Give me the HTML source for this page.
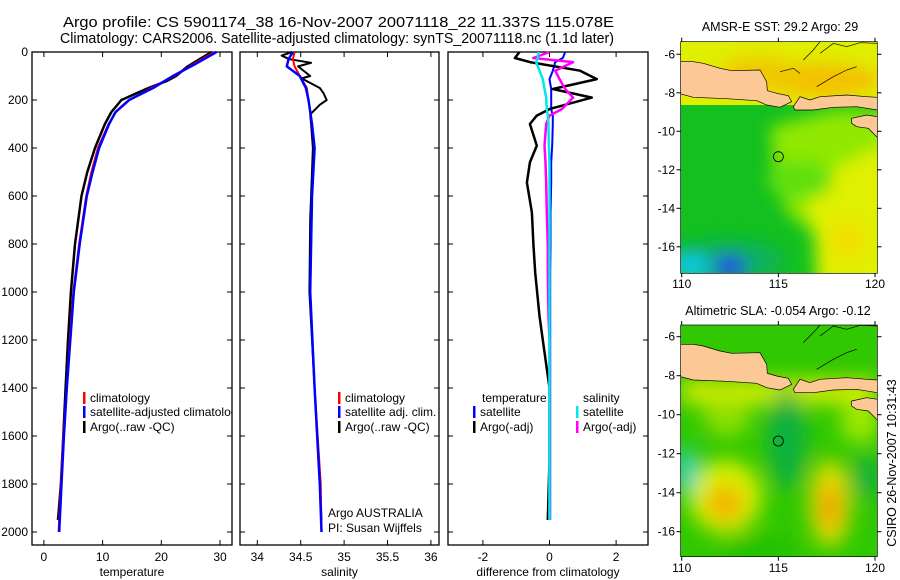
<!DOCTYPE html>
<html><head><meta charset="utf-8">
<style>
html,body{margin:0;padding:0;background:#fff;}
svg{display:block;font-family:"Liberation Sans",sans-serif;}
</style></head>
<body>
<svg id="fig" width="900" height="580" viewBox="0 0 900 580" xmlns="http://www.w3.org/2000/svg">
<defs><clipPath id="p1clip"><rect x="32" y="52" width="200" height="493"/></clipPath></defs>
<text x="63" y="27" font-size="15" textLength="551" lengthAdjust="spacingAndGlyphs">Argo profile: CS 5901174_38 16-Nov-2007 20071118_22 11.337S 115.078E</text>
<text x="60" y="43" font-size="14.5" textLength="554" lengthAdjust="spacingAndGlyphs">Climatology: CARS2006. Satellite-adjusted climatology: synTS_20071118.nc (1.1d later)</text>

<!-- Map 1 -->
<g>
<text x="780" y="31" font-size="12.5" text-anchor="middle">AMSR-E SST: 29.2 Argo: 29</text>
<svg x="660" y="0" width="240" height="290" viewBox="0 0 720 870">
<defs><clipPath id="c1"><rect x="62" y="125" width="590" height="695"/></clipPath>
<filter id="bl"><feGaussianBlur stdDeviation="25"/></filter></defs>
<g clip-path="url(#c1)">
<rect x="62" y="125" width="590" height="695" fill="#12c020"/>
<rect x="62" y="125" width="590" height="190" fill="#e0ee00"/>
<g filter="url(#bl)">
<ellipse cx="480" cy="240" rx="180" ry="50" fill="#f4c000"/>
<ellipse cx="300" cy="220" rx="120" ry="50" fill="#f0c800"/>
<path d="M330 380 L520 330 L700 330 L700 900 L470 900 L460 700 L380 640 L340 520 Z" fill="#90e800"/>
<path d="M420 560 L700 420 L700 900 L480 900 L470 700 Z" fill="#e0f000"/>
<ellipse cx="420" cy="540" rx="100" ry="60" fill="#60e010"/>
<ellipse cx="200" cy="780" rx="170" ry="60" fill="#10b060"/>
<ellipse cx="90" cy="800" rx="60" ry="40" fill="#10c8e0"/>
<ellipse cx="210" cy="800" rx="50" ry="35" fill="#2050e0"/>
<ellipse cx="560" cy="720" rx="60" ry="60" fill="#f0e000"/>
</g>
<path d="M62 185 L100 185 L130 190 L180 205 L215 212 L300 210 L320 245 L322 272 L350 280 L385 287 L395 305 L360 322 L320 315 L290 302 L200 296 L100 292 L62 282 Z" fill="#fcc896" stroke="#000" stroke-width="2"/>
<path d="M400 320 L420 290 L450 300 L480 290 L560 285 L620 290 L652 292 L652 330 L590 320 L520 322 L460 330 L405 330 Z" fill="#fcc896" stroke="#000" stroke-width="2"/>
<path d="M575 355 L620 345 L652 350 L652 412 L625 385 L590 380 L575 370 Z" fill="#fcc896" stroke="#000" stroke-width="2"/>
<path d="M430 180 L460 150 L480 125 M480 160 L520 130 L560 140 L600 128 L652 130 M470 260 L520 230 L560 210 L590 200 M360 215 L400 205 L420 220" fill="none" stroke="#000" stroke-width="2"/>
<circle cx="355" cy="470" r="15" fill="none" stroke="#000" stroke-width="2.5"/>
</g>
<rect x="62" y="125" width="590" height="695" fill="none" stroke="#000" stroke-width="2"/>
</svg>
</g>

<!-- Map 2 -->
<g>
<text x="778" y="315" font-size="12.5" text-anchor="middle">Altimetric SLA: -0.054 Argo: -0.12</text>
<svg x="660" y="290" width="240" height="290" viewBox="0 0 720 870">
<defs><clipPath id="c2"><rect x="62" y="105" width="590" height="695"/></clipPath>
<filter id="bl2"><feGaussianBlur stdDeviation="30"/></filter></defs>
<g clip-path="url(#c2)">
<rect x="62" y="105" width="590" height="695" fill="#30c800"/>
<g filter="url(#bl2)">
<rect x="62" y="270" width="590" height="70" fill="#d8ee00"/>
<ellipse cx="195" cy="620" rx="110" ry="110" fill="#d8f000"/>
<ellipse cx="195" cy="640" rx="55" ry="55" fill="#f4b000"/>
<ellipse cx="510" cy="640" rx="60" ry="130" fill="#e8e000"/>
<ellipse cx="510" cy="650" rx="30" ry="70" fill="#f09800"/>
<ellipse cx="380" cy="450" rx="60" ry="150" fill="#10b040"/>
<ellipse cx="80" cy="540" rx="30" ry="70" fill="#20d0d0"/>
<ellipse cx="620" cy="560" rx="40" ry="70" fill="#10b040"/>
<ellipse cx="200" cy="380" rx="70" ry="60" fill="#90e000"/>
<ellipse cx="600" cy="400" rx="60" ry="60" fill="#a0e800"/>
<ellipse cx="300" cy="780" rx="120" ry="40" fill="#20c000"/>
</g>
<path d="M62 163 L100 163 L130 168 L180 183 L215 190 L300 188 L320 223 L322 250 L350 258 L385 265 L395 283 L360 300 L320 293 L290 280 L200 274 L100 270 L62 260 Z" fill="#fcc896" stroke="#000" stroke-width="2"/>
<path d="M400 298 L420 268 L450 278 L480 268 L560 263 L620 268 L652 270 L652 308 L590 298 L520 300 L460 308 L405 308 Z" fill="#fcc896" stroke="#000" stroke-width="2"/>
<path d="M575 333 L620 323 L652 328 L652 390 L625 363 L590 358 L575 348 Z" fill="#fcc896" stroke="#000" stroke-width="2"/>
<path d="M430 158 L460 128 L480 105 M480 138 L520 108 L560 118 L600 106 L652 108 M470 238 L520 208 L560 188 L590 178" fill="none" stroke="#000" stroke-width="2"/>
<circle cx="355" cy="453" r="15" fill="none" stroke="#000" stroke-width="2.5"/>
</g>
<rect x="62" y="105" width="590" height="695" fill="none" stroke="#000" stroke-width="2"/>
</svg>
</g>
<text transform="translate(896,463) rotate(-90)" font-size="12.5" text-anchor="middle">CSIRO 26-Nov-2007 10:31:43</text>
<g id="dyn"></g>
</svg>

<script>
// ---- data ----
const tDepth = [0, 50, 100, 150, 200, 250, 300, 400, 500, 600, 800, 1000, 1200, 1400, 1600, 1800, 2000];
const tClim  = [29.0, 25.5, 22.2, 18.3, 14.6, 12.3, 11.0, 9.2, 8.1, 7.2, 6.0, 5.0, 4.4, 3.9, 3.3, 2.9, 2.5];
const tSat   = [29.4, 25.8, 22.0, 18.6, 14.5, 12.2, 11.1, 9.4, 8.3, 7.3, 6.1, 5.1, 4.5, 3.9, 3.4, 3.0, 2.6];
const tArgoDepth = [0, 30, 60, 100, 120, 150, 200, 250, 300, 400, 500, 600, 800, 1000, 1200, 1400, 1600, 1800, 1950];
const tArgo  = [28.6, 26.5, 24.5, 22.5, 21.0, 17.8, 13.2, 11.5, 10.4, 8.7, 7.4, 6.4, 5.3, 4.6, 4.1, 3.7, 3.3, 2.9, 2.4];

const sDepth = [0, 30, 60, 100, 150, 200, 300, 400, 600, 1000, 1400, 1800, 2000];
const sClim  = [34.43, 34.41, 34.43, 34.49, 34.57, 34.59, 34.63, 34.66, 34.63, 34.61, 34.66, 34.73, 34.74];
const sSat   = [34.41, 34.36, 34.34, 34.49, 34.56, 34.59, 34.63, 34.66, 34.63, 34.61, 34.66, 34.72, 34.74];
const sArgoDepth = [0, 15, 30, 45, 60, 100, 110, 150, 170, 200, 220, 260, 300, 400, 500, 700, 1000, 1400, 1800, 1950];
const sArgo  = [34.40, 34.28, 34.37, 34.62, 34.47, 34.61, 34.51, 34.72, 34.76, 34.80, 34.72, 34.61, 34.62, 34.64, 34.63, 34.61, 34.60, 34.66, 34.72, 34.74];

const dDepth = [0, 25, 42, 78, 113, 154, 190, 238, 265, 300, 390, 460, 544, 669, 808, 919, 1100, 1200, 1400, 1700, 1950];
const dTArgo = [-0.9, -1.04, -0.59, 0.92, 1.42, 0.1, 1.27, 0.0, -0.38, -0.59, -0.38, -0.59, -0.68, -0.53, -0.48, -0.43, -0.3, -0.2, 0.0, 0.0, -0.05];
const dSArgo = [0.0, -0.49, 0.71, 0.17, 0.3, 0.47, 0.71, 0.37, 0.0, -0.1, -0.15, -0.12, -0.1, -0.08, -0.05, -0.05, -0.03, 0.0, 0.0, 0.0, 0.0];
const dTSat  = [0.47, 0.4, 0.17, 0.1, 0.0, 0.05, 0.05, 0.05, 0.1, 0.1, 0.08, 0.05, 0.05, 0.03, 0.03, 0.02, 0.02, 0.02, 0.02, 0.02, 0.02];
const dSSat  = [-0.33, -0.35, -0.4, -0.3, -0.2, -0.15, -0.1, -0.08, -0.05, -0.03, -0.02, 0, 0, 0, 0, 0, 0, 0, 0, 0, 0];

const depthTicks = [0, 200, 400, 600, 800, 1000, 1200, 1400, 1600, 1800, 2000];
const tTicks = [0, 10, 20, 30];
const sTicks = [34, 34.5, 35, 35.5, 36];
const dTicks = [-2, 0, 2];
const latTicks = [-6, -8, -10, -12, -14, -16];
const lonTicks = [110, 115, 120];

// ---- axes ----
const NS = 'http://www.w3.org/2000/svg';
const g = document.getElementById('dyn');
const yTop = 52, yBot = 545;
function yD(d) { return 52 + d * 0.24; }
function mk(tag, attrs, parent) {
  const e = document.createElementNS(NS, tag);
  for (const k in attrs) e.setAttribute(k, attrs[k]);
  (parent || g).appendChild(e);
  return e;
}
const panels = [
  {name: 'temperature', x0: 32, x1: 232, f: v => 43.9 + v * 5.87, ticks: tTicks, label: 'temperature', ylabels: true},
  {name: 'salinity', x0: 240, x1: 439, f: v => 257.3 + (v - 34) * 86.8, ticks: sTicks, label: 'salinity'},
  {name: 'difference', x0: 448, x1: 648, f: v => 549.5 + v * 33.3, ticks: dTicks, label: 'difference from climatology'}
];
panels.forEach(p => {
  const r = mk('rect', {x: p.x0, y: yTop, width: p.x1 - p.x0, height: yBot - yTop, fill: 'none', stroke: '#000', 'stroke-width': 1.3});
  
  
  depthTicks.forEach(d => {
    const y = yD(d);
    mk('line', {x1: p.x0, x2: p.x0 + 5, y1: y, y2: y, stroke: '#000'});
    mk('line', {x1: p.x1, x2: p.x1 - 5, y1: y, y2: y, stroke: '#000'});
    if (p.ylabels) {
      const t = mk('text', {x: p.x0 - 4, y: y + 4, 'font-size': 12, 'text-anchor': 'end'});
      t.textContent = d;
      
      
    }
  });
  p.ticks.forEach(v => {
    const x = p.f(v);
    mk('line', {x1: x, x2: x, y1: yBot, y2: yBot - 5, stroke: '#000'});
    mk('line', {x1: x, x2: x, y1: yTop, y2: yTop + 5, stroke: '#000'});
    const t = mk('text', {x: x, y: 561, 'font-size': 12, 'text-anchor': 'middle'});
    t.textContent = v;
    
    
  });
  const l = mk('text', {x: (p.x0 + p.x1) / 2, y: 576, 'font-size': 12, 'text-anchor': 'middle'});
  l.textContent = p.label;
  
  
});
function series(p, depths, vals, color, w, name) {
  const pts = depths.map((d, i) => p.f(vals[i]).toFixed(1) + ',' + yD(d).toFixed(1)).join(' ');
  const e = mk('polyline', {points: pts, fill: 'none', stroke: color, 'stroke-width': w, 'stroke-linejoin': 'round'});
  
  
}
series(panels[0], tArgoDepth, tArgo, '#000', 2.5, 'temperature-argo-line');
series(panels[0], tDepth, tClim, '#f00', 2, 'temperature-climatology-line');
series(panels[0], tDepth, tSat, '#0000ff', 2.5, 'temperature-satellite-line');
series(panels[1], sArgoDepth, sArgo, '#000', 2, 'salinity-argo-line');
series(panels[1], sDepth, sClim, '#f00', 2, 'salinity-climatology-line');
series(panels[1], sDepth, sSat, '#0000ff', 2.5, 'salinity-satellite-line');
series(panels[2], dDepth, dTSat, '#0000ff', 2, 'diff-temperature-satellite-line');
series(panels[2], dDepth, dTArgo, '#000', 2.5, 'diff-temperature-argo-line');
series(panels[2], dDepth, dSArgo, '#ff00ff', 2.5, 'diff-salinity-argo-line');
series(panels[2], dDepth, dSSat, '#00e8e8', 2.5, 'diff-salinity-satellite-line');

const legClip = mk('g', {'clip-path': 'url(#p1clip)'});
function legendRow(x, y, color, text, name, parent) {
  if (color) {
    const m = mk('rect', {x: x, y: y - 10, width: 2.5, height: 12, fill: color}, parent);
    
    
  }
  const t = mk('text', {x: x + 7, y: y, 'font-size': 12}, parent);
  t.textContent = text;
  
  
}
legendRow(83, 402, '#f00', 'climatology', 'legend-entry-climatology', legClip);
legendRow(83, 416, '#0000ff', 'satellite-adjusted climatology', 'legend-entry-satellite', legClip);
legendRow(83, 431, '#000', 'Argo(..raw -QC)', 'legend-entry-argo', legClip);
legendRow(338, 402, '#f00', 'climatology', 'legend-entry-climatology');
legendRow(338, 416, '#0000ff', 'satellite adj. clim.', 'legend-entry-satellite');
legendRow(338, 431, '#000', 'Argo(..raw -QC)', 'legend-entry-argo');
legendRow(475, 402, null, 'temperature', 'legend-heading-temperature');
legendRow(473, 416, '#0000ff', 'satellite', 'legend-entry-temp-satellite');
legendRow(473, 431, '#000', 'Argo(-adj)', 'legend-entry-temp-argo');
legendRow(576, 402, null, 'salinity', 'legend-heading-salinity');
legendRow(576, 416, '#00e8e8', 'satellite', 'legend-entry-sal-satellite');
legendRow(576, 431, '#ff00ff', 'Argo(-adj)', 'legend-entry-sal-argo');
legendRow(321, 517, null, 'Argo AUSTRALIA', 'argo-australia-note');
legendRow(321, 532, null, 'PI: Susan Wijffels', 'pi-note');

// map axes
[{top: 41.7, bot: 273.3, latY: v => 54.3 + (v + 6) * -19.25, lab: 284, name: 'sst'},
 {top: 325, bot: 556.7, latY: v => 336.7 + (v + 6) * -19.5, lab: 568, name: 'sla'}].forEach(m => {
  const lonX = v => 681.7 + (v - 110) * 19.33;
  latTicks.forEach(v => {
    const y = m.latY(v);
    mk('line', {x1: 680.5, x2: 676.5, y1: y, y2: y, stroke: '#000'});
    mk('line', {x1: 877.5, x2: 881.5, y1: y, y2: y, stroke: '#000'});
    const t = mk('text', {x: 675, y: y + 4, 'font-size': 12, 'text-anchor': 'end'});
    t.textContent = v;
    
    
  });
  lonTicks.forEach(v => {
    const x = lonX(v);
    mk('line', {x1: x, x2: x, y1: m.bot, y2: m.bot + 4, stroke: '#000'});
    mk('line', {x1: x, x2: x, y1: m.top, y2: m.top - 4, stroke: '#000'});
    const t = mk('text', {x: x, y: m.lab + 4, 'font-size': 12, 'text-anchor': 'middle'});
    t.textContent = v;
    
    
  });
});
</script>
</body></html>
